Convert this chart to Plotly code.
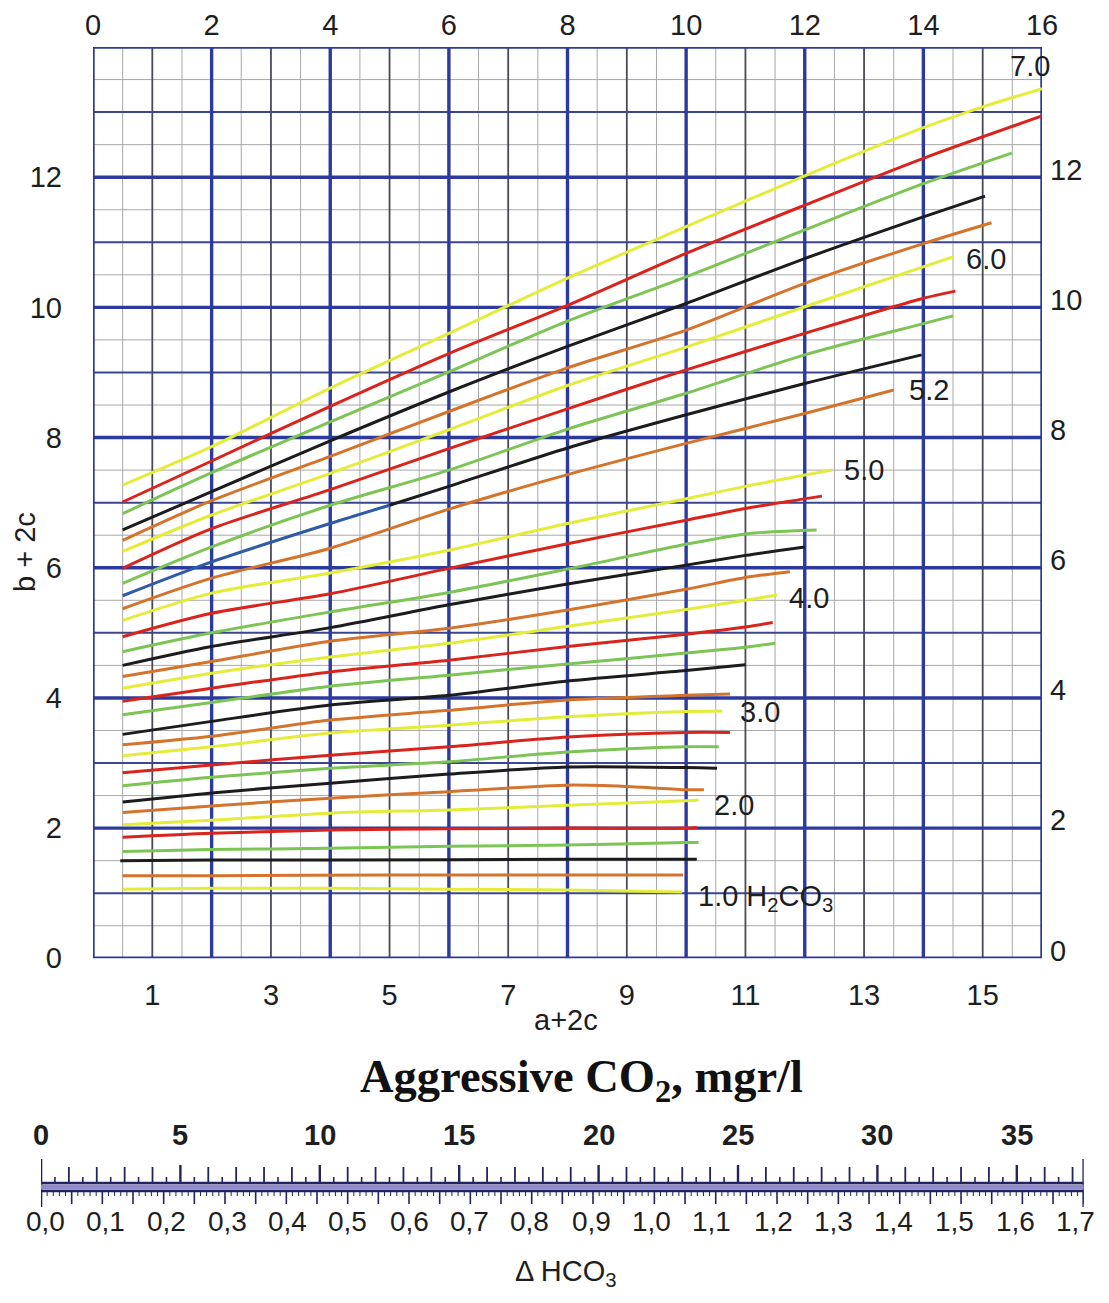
import numpy as np
import plotly.graph_objects as go

# ------------------------------------------------------------------ data
curve_ph = [1.0, 1.2, 1.4, 1.6, 1.8, 2.0, 2.2, 2.4, 2.6, 2.8, 3.0, 3.2, 3.4, 3.6, 3.8,
            4.0, 4.2, 4.4, 4.6, 4.8, 5.0, 5.2, 5.4, 5.6, 5.8, 6.0, 6.2, 6.4, 6.6, 6.8, 7.0]

curve_x = [
    [0.5, 2, 4, 6, 8, 9.93],
    [0.5, 2, 5, 8, 9.95],
    [0.46, 2, 4, 8, 10.18],
    [0.5, 2, 4, 6, 8, 10, 10.21],
    [0.5, 2, 4, 6, 8, 10, 10.18],
    [0.5, 2, 4, 6, 8, 10, 10.21],
    [0.5, 2, 4, 6, 8, 9, 10, 10.3],
    [0.5, 2, 4, 6, 8, 10, 10.52],
    [0.5, 2, 4, 6, 8, 10, 10.55],
    [0.5, 2, 4, 6, 8, 10, 10.74],
    [0.5, 2, 4, 6, 8, 10, 10.61],
    [0.5, 2, 4, 6, 8, 10, 10.74],
    [0.5, 2, 4, 6, 8, 10, 11.0],
    [0.5, 2, 4, 6, 8, 10, 11, 11.5],
    [0.5, 2, 4, 6, 8, 10, 11, 11.46],
    [0.5, 2, 4, 6, 8, 10, 11, 11.53],
    [0.5, 2, 4, 6, 8, 10, 11, 11.75],
    [0.5, 2, 4, 6, 8, 10, 11, 12.0],
    [0.5, 2, 4, 6, 8, 10, 11, 12.2],
    [0.5, 2, 4, 6, 8, 10, 11, 12.29],
    [0.5, 2, 4, 6, 8, 10, 11, 12.46],
    [0.5, 2, 4, 6, 8, 10, 12, 13.5],
    [0.5, 2, 4, 5, 6, 8, 10, 12, 13.97],
    [0.5, 2, 4, 6, 8, 10, 12, 14, 14.5],
    [0.5, 2, 4, 6, 8, 10, 12, 14, 14.54],
    [0.5, 2, 4, 6, 8, 10, 12, 14.51],
    [0.5, 2, 4, 6, 8, 10, 12, 14, 15.15],
    [0.5, 2, 4, 6, 8, 10, 12, 14, 15.04],
    [0.5, 2, 4, 6, 8, 10, 12, 14, 15.49],
    [0.5, 2, 4, 6, 8, 10, 12, 14, 16.0],
    [0.5, 2, 4, 6, 8, 10, 12, 14, 15, 16.0],
]

curve_y = [
    [1.06, 1.075, 1.075, 1.06, 1.05, 1.02],
    [1.27, 1.27, 1.28, 1.28, 1.28],
    [1.50, 1.51, 1.51, 1.52, 1.52],
    [1.64, 1.67, 1.69, 1.72, 1.74, 1.78, 1.78],
    [1.86, 1.92, 1.97, 1.99, 2.00, 2.00, 2.01],
    [2.05, 2.12, 2.23, 2.28, 2.35, 2.42, 2.43],
    [2.24, 2.34, 2.46, 2.56, 2.66, 2.64, 2.59, 2.59],
    [2.40, 2.54, 2.69, 2.83, 2.94, 2.93, 2.92],
    [2.65, 2.78, 2.92, 3.02, 3.17, 3.25, 3.25],
    [2.85, 2.97, 3.12, 3.25, 3.40, 3.47, 3.47],
    [3.11, 3.25, 3.46, 3.58, 3.71, 3.79, 3.80],
    [3.28, 3.41, 3.66, 3.81, 3.97, 4.04, 4.06],
    [3.44, 3.64, 3.89, 4.04, 4.26, 4.42, 4.51],
    [3.74, 3.93, 4.18, 4.35, 4.52, 4.69, 4.78, 4.84],
    [3.95, 4.15, 4.40, 4.58, 4.79, 4.98, 5.09, 5.16],
    [4.15, 4.38, 4.63, 4.84, 5.10, 5.36, 5.50, 5.58],
    [4.33, 4.56, 4.87, 5.07, 5.35, 5.67, 5.85, 5.94],
    [4.50, 4.79, 5.08, 5.43, 5.75, 6.04, 6.19, 6.32],
    [4.71, 5.00, 5.32, 5.62, 5.98, 6.36, 6.52, 6.58],
    [4.94, 5.30, 5.60, 5.99, 6.37, 6.73, 6.91, 7.10],
    [5.19, 5.61, 5.92, 6.27, 6.68, 7.06, 7.25, 7.50],
    [5.37, 5.84, 6.30, 6.90, 7.43, 7.91, 8.37, 8.73],
    [5.57, 6.09, 6.68, 6.96, 7.25, 7.84, 8.35, 8.83, 9.27],
    [5.76, 6.32, 6.96, 7.50, 8.13, 8.68, 9.27, 9.75, 9.87],
    [5.99, 6.60, 7.20, 7.83, 8.44, 9.04, 9.60, 10.14, 10.25],
    [6.25, 6.81, 7.45, 8.12, 8.80, 9.39, 10.01, 10.78],
    [6.42, 7.03, 7.71, 8.40, 9.07, 9.65, 10.37, 10.98, 11.30],
    [6.58, 7.17, 7.95, 8.70, 9.40, 10.06, 10.75, 11.39, 11.71],
    [6.83, 7.46, 8.24, 9.01, 9.79, 10.47, 11.19, 11.90, 12.37],
    [7.01, 7.64, 8.48, 9.29, 10.03, 10.83, 11.57, 12.29, 12.94],
    [7.27, 7.86, 8.76, 9.60, 10.45, 11.24, 12.02, 12.76, 13.08, 13.36],
]

label_ph = [7.0, 6.0, 5.2, 5.0, 4.0, 3.0, 2.0, 1.0]
label_text = ["7.0", "6.0", "5.2", "5.0", "4.0", "3.0", "2.0",
              "1.0 H<sub>2</sub>CO<sub>3</sub>"]

top_ticks = list(range(0, 17, 2))
bottom_ticks = list(range(1, 16, 2))
left_ticks = list(range(0, 13, 2))
right_ticks = list(range(0, 13, 2))

co2_labels = list(range(0, 36, 5))
dhco3_labels = [round(0.1 * i, 1) for i in range(18)]
co2_max = 37.4
co2_per_dhco3 = 22.0

# ------------------------------------------------------------------ style
OFF = 8                      # page body margin of the browser
W, H = 1109 - 2 * OFF, 1303 - 2 * OFF
M = 10
PW, PH = W - 2 * M, H - 2 * M


def fx(px):
    """reference-image pixel x -> paper x"""
    return (px - OFF - M) / PW


def fy(py):
    """reference-image pixel y -> paper y"""
    return (H - M - (py - OFF)) / PH


FONT = "Liberation Sans, Arial, sans-serif"
SERIF = "Liberation Serif, Times New Roman, serif"
TXT = "#1e1e1e"
BLUE = "#2c3a9e"
DARK = "#4a4a55"
GREY = "#a8a8a8"

cycle = ["#e4ec3a", "#d4742c", "#1c1c1c", "#7cc454", "#d8241c"]
BLUE_SEG = "#2f5aa8"
LW = 3.0

fig = go.Figure()

# curves
for i, ph in enumerate(curve_ph):
    xs, ys = curve_x[i], curve_y[i]
    col = cycle[i % 5]
    if abs(ph - 5.4) < 1e-9:
        k = xs.index(5)
        fig.add_trace(go.Scatter(x=xs[:k + 1], y=ys[:k + 1], mode="lines",
                                 line=dict(color=BLUE_SEG, width=LW, shape="spline", smoothing=0.8),
                                 hoverinfo="skip", showlegend=False))
        fig.add_trace(go.Scatter(x=xs[k:], y=ys[k:], mode="lines",
                                 line=dict(color=col, width=LW, shape="spline", smoothing=0.8),
                                 hoverinfo="skip", showlegend=False))
    else:
        fig.add_trace(go.Scatter(x=xs, y=ys, mode="lines",
                                 line=dict(color=col, width=LW, shape="spline", smoothing=0.8),
                                 name=f"{ph:.1f}", hoverinfo="skip", showlegend=False))

# dummy traces so that the overlay axes are drawn
fig.add_trace(go.Scatter(x=[0], y=[0], xaxis="x2", yaxis="y", mode="markers",
                         marker=dict(opacity=0), hoverinfo="skip", showlegend=False))
fig.add_trace(go.Scatter(x=[0], y=[0], xaxis="x", yaxis="y2", mode="markers",
                         marker=dict(opacity=0), hoverinfo="skip", showlegend=False))

# grid (shapes, below traces)
shapes = []
levels = [("half", GREY, 1.0), ("odd", DARK, 1.8), ("even", BLUE, 3.4)]
xv = np.arange(0, 16.001, 0.5)
yv = np.arange(0, 14.001, 0.5)


def kind(v):
    if abs(v - round(v)) > 1e-6:
        return "half"
    return "even" if int(round(v)) % 2 == 0 else "odd"


for lvl, col, wd in levels:
    for v in xv:
        if kind(v) == lvl:
            shapes.append(dict(type="line", xref="x", yref="y", x0=v, x1=v, y0=0, y1=14,
                               line=dict(color=col, width=wd), layer="below"))
    for v in yv:
        if kind(v) == lvl:
            c, w = (col, wd)
            if lvl == "odd":
                c, w = "#3c4690", 2.0
            shapes.append(dict(type="line", xref="x", yref="y", x0=0, x1=16, y0=v, y1=v,
                               line=dict(color=c, width=w), layer="below"))

# scale bar (x3 / y3), 1 y-unit = 1 px, 0 at the double line centre
co2_int = np.arange(0, 38, 1)
co2_half = np.arange(0.5, 37.5, 1)
dh_fine = np.arange(0, 1.7001, 0.01)


def seg_trace(vals, y0, y1, col, wd):
    xs, ys = [], []
    for v in vals:
        xs += [v, v, None]
        ys += [y0, y1, None]
    return go.Scatter(x=xs, y=ys, xaxis="x3", yaxis="y3", mode="lines",
                      line=dict(color=col, width=wd), hoverinfo="skip", showlegend=False)


SC = "#23235e"
# upper ticks (CO2)
fig.add_trace(seg_trace(co2_half, 4, 10, SC, 1.6))
fig.add_trace(seg_trace([v for v in co2_int if v % 5 != 0], 4, 20, SC, 1.8))
fig.add_trace(seg_trace([v for v in co2_int if v % 5 == 0 and v > 0], 4, 22, SC, 2.4))
# lower ticks (delta HCO3)
fine_vals = [round(v, 2) for v in dh_fine]
fig.add_trace(seg_trace([v * co2_per_dhco3 for v in fine_vals if round(v * 100) % 5 != 0],
                        -4, -9, SC, 1.0))
fig.add_trace(seg_trace([v * co2_per_dhco3 for v in fine_vals if round(v * 100) % 5 == 0],
                        -4, -17, SC, 1.6))
# end bars
fig.add_trace(seg_trace([0, co2_max], 28, -20, SC, 2.6))
# double line
fig.add_trace(go.Scatter(x=[0, co2_max], y=[0, 0], xaxis="x3", yaxis="y3", mode="lines",
                         line=dict(color="#8f8acb", width=5), hoverinfo="skip", showlegend=False))
fig.add_trace(go.Scatter(x=[0, co2_max, None, 0, co2_max], y=[4, 4, None, -4, -4],
                         xaxis="x3", yaxis="y3", mode="lines",
                         line=dict(color=SC, width=2.4), hoverinfo="skip", showlegend=False))

# annotations
ann = []
offsets = {7.0: (-12, 23, "center"), 6.0: (10, -2, "left"), 5.2: (13, 0, "left"),
           5.0: (10, 0, "left"), 4.0: (10, -3, "left"), 3.0: (16, -1, "left"),
           2.0: (13, -5, "left"), 1.0: (14, -6, "left")}
for ph, txt in zip(label_ph, label_text):
    i = curve_ph.index(ph)
    dx, dy, xa = offsets[ph]
    ann.append(dict(x=curve_x[i][-1], y=curve_y[i][-1], xref="x", yref="y", text=txt,
                    showarrow=False, xanchor=xa, yanchor="middle", xshift=dx, yshift=dy,
                    font=dict(family=FONT, size=29, color=TXT)))

for v in co2_labels:
    ann.append(dict(x=v, y=fy(1135), xref="x3", yref="paper", text=f"<b>{v}</b>",
                    showarrow=False, xanchor="center", yanchor="middle",
                    font=dict(family=FONT, size=29, color=TXT)))
for v in dhco3_labels:
    ann.append(dict(x=v * co2_per_dhco3, y=fy(1221), xref="x3", yref="paper",
                    text=f"{v:.1f}".replace(".", ","), showarrow=False,
                    xanchor="center", yanchor="middle",
                    xshift=round(4 - 12 * v / 1.7),
                    font=dict(family=FONT, size=28, color=TXT)))

ann.append(dict(x=fx(581), y=fy(1080), xref="paper", yref="paper",
                text="<b>Aggressive CO<sub>2</sub>, mgr/l</b>", showarrow=False,
                xanchor="center", yanchor="middle",
                font=dict(family=SERIF, size=46.5, color="#111")))
ann.append(dict(x=fx(566), y=fy(1273), xref="paper", yref="paper",
                text="\u0394 HCO<sub>3</sub>", showarrow=False,
                xanchor="center", yanchor="middle",
                font=dict(family=FONT, size=29, color=TXT)))
ann.append(dict(x=fx(566), y=fy(1020), xref="paper", yref="paper",
                text="a+2c", showarrow=False, xanchor="center", yanchor="middle",
                font=dict(family=FONT, size=29, color=TXT)))
ann.append(dict(x=fx(25), y=fy(552), xref="paper", yref="paper",
                text="b + 2c", showarrow=False, textangle=-90,
                xanchor="center", yanchor="middle",
                font=dict(family=FONT, size=29, color=TXT)))

dom_x = [fx(93), fx(1042)]
dom_y = [fy(958.3), fy(47)]
tickfont = dict(family=FONT, size=29, color=TXT)
common = dict(showgrid=False, zeroline=False, showline=False, ticks="",
              tickfont=tickfont, fixedrange=True, automargin=False)

fig.update_layout(
    width=W, height=H, autosize=False,
    margin=dict(l=M, r=M, t=M, b=M, pad=0, autoexpand=False),
    paper_bgcolor="white", plot_bgcolor="white",
    showlegend=False,
    shapes=shapes,
    annotations=ann,
    xaxis=dict(domain=dom_x, range=[0, 16], anchor="y", side="top",
               tickvals=top_ticks, ticktext=[str(v) for v in top_ticks],
               ticklabelstandoff=5, **common),
    xaxis2=dict(range=[0, 16], overlaying="x", anchor="y", side="bottom",
                tickvals=bottom_ticks, ticktext=[str(v) for v in bottom_ticks],
                ticklabelstandoff=17, **common),
    yaxis=dict(domain=dom_y, range=[0, 14], anchor="x", side="left",
               tickvals=left_ticks, ticktext=[str(v) for v in left_ticks],
               ticklabelstandoff=30, **common),
    yaxis2=dict(range=[-0.12, 13.88], overlaying="y", anchor="x", side="right",
                tickvals=right_ticks, ticktext=[str(v) for v in right_ticks],
                ticklabelstandoff=7, **common),
    xaxis3=dict(domain=[fx(41), fx(41 + co2_max * 27.88)], range=[0, co2_max], anchor="y3",
                visible=False, fixedrange=True, automargin=False),
    yaxis3=dict(domain=[fy(1215), fy(1150)], range=[-28, 37], anchor="x3",
                visible=False, fixedrange=True, automargin=False),
)

fig.write_html("out.html")
